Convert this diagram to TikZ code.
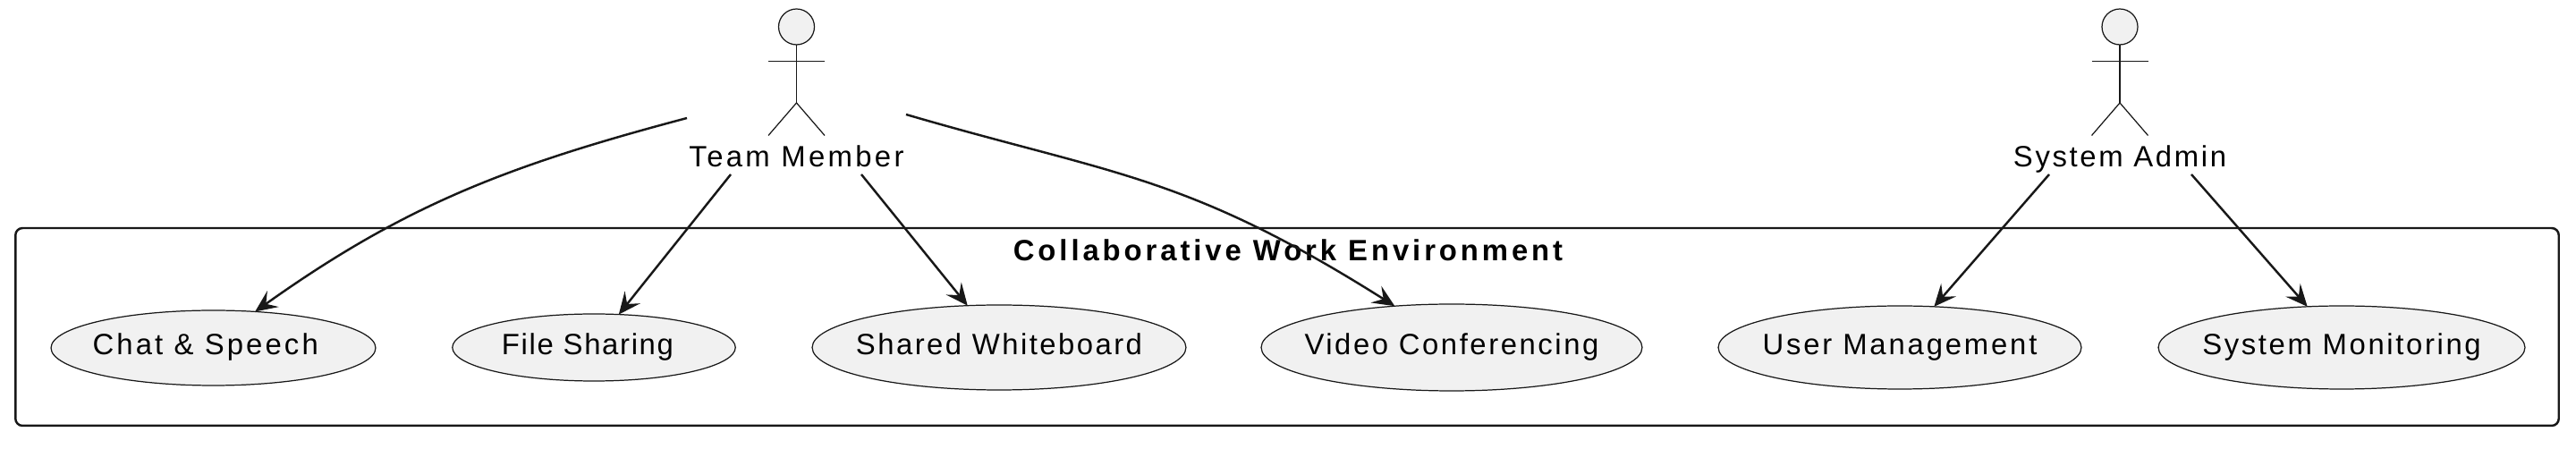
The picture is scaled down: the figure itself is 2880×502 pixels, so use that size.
\documentclass[tikz,border=0pt]{standalone}
\usepackage{fontspec}
\setmainfont{Liberation Sans}
\usetikzlibrary{arrows.meta, shapes.geometric}

\definecolor{umlline}{HTML}{181818}
\definecolor{umlfill}{HTML}{F1F1F1}

\tikzset{
    spaced/.style={font=\fontsize{18.7}{22}\selectfont\addfontfeature{LetterSpace=#1}},
    usecase/.style={draw=umlline, fill=umlfill, ellipse, line width=0.7pt, inner xsep=-40pt, inner ysep=0pt, outer sep=0pt,
        text height=9pt, text depth=0pt},
    actorline/.style={draw=umlline, line width=0.7pt},
    assoc/.style={draw=umlline, line width=1.4pt, -{Stealth[length=14pt, width=12.5pt, inset=5.5pt]}},
}

\begin{document}
\begin{tikzpicture}[x=0.02cm, y=-0.02cm]
\useasboundingbox (0,0) rectangle (2880,502);

% system frame and title
\node [draw=umlline, line width=1.4pt, rounded corners=4.5pt, inner sep=0pt, outer sep=0pt,
    minimum width=56.88cm, minimum height=4.42cm] (frame) at (1439,365.5) {};
\node [anchor=base, font=\fontsize{18.7}{22}\selectfont\bfseries\addfontfeature{LetterSpace=11.9}] (frametitle) at (1440,292) {Collaborative Work Environment};

% use cases
\node [usecase, spaced=9.5, minimum width=7.26cm, minimum height=1.68cm] (chat) at (238.5,389) {\hspace*{-10pt}Chat \& Speech};
\node [usecase, spaced=5.1, minimum width=6.33cm, minimum height=1.5cm] (files) at (664,388.5) {\hspace*{-8pt}File Sharing};
\node [usecase, spaced=7.5, minimum width=8.36cm, minimum height=1.9cm] (board) at (1117,388.5) {Shared Whiteboard};
\node [usecase, spaced=7.8, minimum width=8.52cm, minimum height=1.94cm] (video) at (1623,388.5) {Video Conferencing};
\node [usecase, spaced=8.6, minimum width=8.12cm, minimum height=1.86cm] (users) at (2124,388.5) {User Management};
\node [usecase, spaced=8, minimum width=8.2cm, minimum height=1.86cm] (monitor) at (2618,388.5) {System Monitoring};

% team member
\node [circle, draw=umlline, fill=umlfill, line width=0.7pt, inner sep=0pt, outer sep=0pt, minimum size=0.8cm] (memberhead) at (890.5,30) {};
\coordinate (memberhip) at (890.5,115);
\draw [actorline] (memberhead.south) -- (memberhip);
\draw [actorline] (859,68.5) -- (922,68.5);
\draw [actorline] (859,151.5) -- (memberhip) -- (922,151.5);
\node [anchor=base, spaced=10.2] (member) at (890.5,187) {Team Member};

% system admin
\node [circle, draw=umlline, fill=umlfill, line width=0.7pt, inner sep=0pt, outer sep=0pt, minimum size=0.8cm] (adminhead) at (2370,30) {};
\coordinate (adminhip) at (2370,115);
\draw [actorline] (adminhead.south) -- (adminhip);
\draw [actorline] (2338.5,68.5) -- (2401.5,68.5);
\draw [actorline] (2338.5,151.5) -- (adminhip) -- (2401.5,151.5);
\node [anchor=base, spaced=8] (admin) at (2370,187) {System Admin};

% connector ends at the actors
\coordinate (memberleft) at (768,132);
\coordinate (memberright) at (1013,128);
\coordinate (memberlow) at (817,195);
\coordinate (memberlowr) at (963,195);
\coordinate (adminlow) at (2291,195);
\coordinate (adminlowr) at (2450,195);

\draw [assoc] (memberleft) .. controls (568,185) and (453,229) .. (chat.41);
\draw [assoc] (memberlow) -- (files.53);
\draw [assoc] (memberlowr) -- (board.127);
\draw [assoc] (memberright) .. controls (1246,196) and (1326,195) .. (video.144);
\draw [assoc] (adminlow) -- (users.50);
\draw [assoc] (adminlowr) -- (monitor.130);
\end{tikzpicture}
\end{document}
